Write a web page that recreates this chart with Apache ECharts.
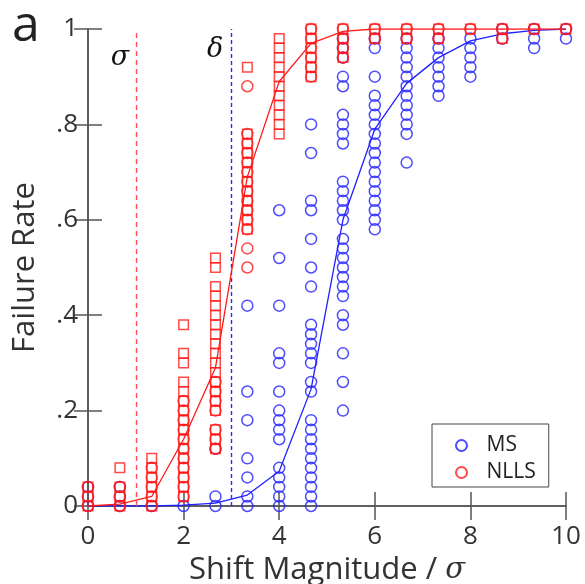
<!DOCTYPE html>
<html><head><meta charset="utf-8">
<script src="https://cdn.jsdelivr.net/npm/echarts@6/dist/echarts.min.js"></script>
<style>html,body{margin:0;padding:0;background:#fff}#c{width:585px;height:584px}</style>
</head><body><div id="c"></div>
<script>
// ---- data ----
const xValues = [0, 0.6667, 1.3333, 2, 2.6667, 3.3333, 4, 4.6667, 5.3333, 6, 6.6667, 7.3333, 8, 8.6667, 9.3333, 10];
const xTicks = [0, 2, 4, 6, 8, 10];
const yTickLabels = ['0', '.2', '.4', '.6', '.8', '1'];

// MS failure rates per shift magnitude (blue circles)
const msRates = [
  [0, 0.02, 0.04],
  [0, 0.02, 0.04],
  [0],
  [0],
  [0, 0.02, 0.12],
  [0, 0.02, 0.06, 0.10, 0.18, 0.24, 0.42],
  [0, 0.02, 0.04, 0.06, 0.08, 0.14, 0.16, 0.18, 0.20, 0.24, 0.30, 0.32, 0.42, 0.52, 0.62],
  [0, 0.02, 0.04, 0.06, 0.08, 0.10, 0.12, 0.14, 0.16, 0.18, 0.24, 0.26, 0.30, 0.32, 0.34, 0.36, 0.38, 0.46, 0.50, 0.56, 0.62, 0.64, 0.74, 0.80],
  [0.20, 0.26, 0.32, 0.38, 0.40, 0.44, 0.46, 0.48, 0.50, 0.52, 0.54, 0.56, 0.60, 0.62, 0.64, 0.66, 0.68, 0.76, 0.78, 0.80, 0.82, 0.88, 0.90, 0.94, 0.96, 0.98],
  [0.58, 0.60, 0.62, 0.64, 0.66, 0.68, 0.70, 0.72, 0.74, 0.76, 0.78, 0.80, 0.82, 0.84, 0.86, 0.90, 0.96, 0.98],
  [0.72, 0.78, 0.80, 0.82, 0.84, 0.86, 0.88, 0.90, 0.92, 0.94, 0.96, 0.98],
  [0.86, 0.88, 0.90, 0.92, 0.94, 0.96, 0.98],
  [0.90, 0.92, 0.94, 0.96, 0.98],
  [0.98, 1.0],
  [0.96, 0.98, 1.0],
  [0.98, 1.0]
];

// NLLS failure rates (red circles)
const nllsCircleRates = [
  [0, 0.02, 0.04],
  [0, 0.02, 0.04],
  [0, 0.02, 0.04, 0.06, 0.08],
  [0.02, 0.04, 0.06, 0.08, 0.10, 0.12, 0.14, 0.16, 0.18, 0.20, 0.22],
  [0.12, 0.14, 0.16, 0.20, 0.22, 0.24, 0.26],
  [0.50, 0.54, 0.58, 0.60, 0.62, 0.64, 0.66, 0.68, 0.70, 0.72, 0.74, 0.76, 0.78, 0.88],
  [],
  [0.90, 0.92, 0.94, 0.96, 0.98, 1.0],
  [0.94, 0.96, 0.98, 1.0],
  [0.98, 1.0],
  [0.98, 1.0],
  [0.98, 1.0],
  [1.0],
  [0.98, 1.0],
  [1.0],
  [1.0]
];

// red squares
const nllsSquareRates = [
  [0, 0.02, 0.04],
  [0, 0.02, 0.04, 0.08],
  [0, 0.02, 0.04, 0.06, 0.08, 0.10],
  [0.02, 0.04, 0.06, 0.08, 0.10, 0.12, 0.14, 0.16, 0.18, 0.20, 0.22, 0.24, 0.26, 0.30, 0.32, 0.38],
  [0.12, 0.14, 0.16, 0.20, 0.22, 0.24, 0.26, 0.28, 0.30, 0.32, 0.34, 0.36, 0.38, 0.40, 0.42, 0.44, 0.46, 0.50, 0.52],
  [0.58, 0.60, 0.62, 0.64, 0.66, 0.68, 0.70, 0.72, 0.74, 0.76, 0.78, 0.92],
  [0.78, 0.80, 0.82, 0.84, 0.86, 0.88, 0.90, 0.92, 0.94, 0.96, 0.98],
  [0.90, 0.92, 0.94, 0.96, 0.98, 1.0],
  [0.94, 0.96, 0.98, 1.0],
  [0.98, 1.0],
  [0.98, 1.0],
  [0.98, 1.0],
  [1.0],
  [0.98, 1.0],
  [1.0],
  [1.0]
];

// fitted curves
const msFit   = [0, 0, 0, 0.002, 0.006, 0.023, 0.073, 0.245, 0.60, 0.79, 0.886, 0.94, 0.975, 0.99, 0.997, 1.0];
const nllsFit = [0, 0.004, 0.02, 0.14, 0.29, 0.69, 0.89, 0.97, 0.995, 1.0, 1.0, 1.0, 1.0, 1.0, 1.0, 1.0];

// threshold lines and their symbols
const sigmaLine = 1;
const deltaLine = 3;
const annotations = [
  { text: 'σ', x: 0.67, y: 0.94, color: '#111' },
  { text: 'δ', x: 2.66, y: 0.956, color: '#111' }
];

// ---- build ----
const BLUE = '#1f1fff', RED = '#ff1a1a';
const FONT = 'Open Sans';
function toPairs(rates) {
  const out = [];
  rates.forEach((col, i) => col.forEach(v => out.push([xValues[i], v])));
  return out;
}
function fitPairs(fit) { return fit.map((v, i) => [xValues[i], v]); }

const axisLineStyle = { color: '#555', width: 1.5 };
const chart = echarts.init(document.getElementById('c'));
chart.setOption({
  animation: false,
  grid: { left: 88, right: 19, top: 29, bottom: 78, containLabel: false, outerBoundsMode: 'none' },
  legend: {
    data: ['MS', 'NLLS'],
    orient: 'vertical',
    left: 432, top: 424,
    padding: [9, 13, 2, 23],
    itemWidth: 40, itemHeight: 11, itemGap: 2,
    borderColor: '#444', borderWidth: 1,
    textStyle: { fontFamily: FONT, fontSize: 21, color: '#222', lineHeight: 25 }
  },
  xAxis: [{
    type: 'value', min: 0, max: 10, interval: 2,
    axisLine: { lineStyle: axisLineStyle },
    axisTick: { inside: true, length: 14, lineStyle: axisLineStyle },
    axisLabel: { fontFamily: FONT, fontSize: 26, color: '#333', margin: 18 },
    splitLine: { show: false },
    name: 'Shift Magnitude / {s|σ}',
    nameLocation: 'middle', nameGap: 47,
    nameTextStyle: { fontFamily: FONT, fontSize: 31, color: '#333',
      rich: { s: { fontFamily: 'DejaVu Serif', fontStyle: 'italic', fontSize: 29, color: '#333' } } }
  }, {
    type: 'value', min: 0, max: 10, interval: 2, position: 'top',
    axisLine: { lineStyle: axisLineStyle },
    axisTick: { inside: true, length: 14, lineStyle: axisLineStyle },
    axisLabel: { show: false }, splitLine: { show: false }
  }],
  yAxis: [{
    type: 'value', min: 0, max: 1, interval: 0.2,
    axisLine: { show: true, lineStyle: axisLineStyle },
    axisTick: { show: true, inside: true, length: 14, lineStyle: axisLineStyle },
    axisLabel: { fontFamily: FONT, fontSize: 26, color: '#333', margin: 10,
      formatter: v => yTickLabels[Math.round(v * 5)] },
    splitLine: { show: false },
    name: 'Failure Rate', nameLocation: 'middle', nameGap: 47,
    nameTextStyle: { fontFamily: FONT, fontSize: 31, color: '#333' }
  }, {
    type: 'value', min: 0, max: 1, interval: 0.2, position: 'right',
    axisLine: { show: true, lineStyle: axisLineStyle },
    axisTick: { show: true, inside: true, length: 14, lineStyle: axisLineStyle },
    axisLabel: { show: false }, splitLine: { show: false }
  }],
  series: [
    {
      name: 'thresholds', type: 'line', data: [], symbol: 'none',
      markLine: {
        silent: true, symbol: 'none', label: { show: false },
        data: [
          { xAxis: sigmaLine, lineStyle: { color: '#ff5050', type: [5, 4], width: 1.4 } },
          { xAxis: deltaLine, lineStyle: { color: '#2a2aff', type: [4, 3], width: 1.4 } }
        ]
      }
    },
    {
      name: 'MS', type: 'scatter', data: toPairs(msRates), symbol: 'circle', symbolSize: 11,
      itemStyle: { color: 'transparent', borderColor: BLUE, borderWidth: 1.5 }, z: 3
    },
    {
      name: 'MS fit', type: 'line', data: fitPairs(msFit), symbol: 'none',
      lineStyle: { color: BLUE, width: 1.3 }, z: 4
    },
    {
      name: 'NLLS', type: 'scatter', data: toPairs(nllsCircleRates), symbol: 'circle', symbolSize: 11,
      itemStyle: { color: 'transparent', borderColor: RED, borderWidth: 1.5 }, z: 5
    },
    {
      name: 'NLLS sq', type: 'scatter', data: toPairs(nllsSquareRates), symbol: 'rect', symbolSize: 9.5,
      itemStyle: { color: 'transparent', borderColor: RED, borderWidth: 1.5 }, z: 5
    },
    {
      name: 'NLLS fit', type: 'line', data: fitPairs(nllsFit), symbol: 'none',
      lineStyle: { color: RED, width: 1.3 }, z: 6
    }
  ]
});

const g = annotations.map(a => {
  const p = chart.convertToPixel({ xAxisIndex: 0, yAxisIndex: 0 }, [a.x, a.y]);
  return { type: 'text', x: p[0], y: p[1],
    style: { text: a.text, fill: a.color, font: 'italic 27px "DejaVu Serif"', align: 'center', verticalAlign: 'middle' } };
});
g.push({ type: 'text', left: 12, top: 2, style: { text: 'a', fill: '#222', font: '50px "Open Sans"' } });
chart.setOption({ graphic: g });
</script></body></html>
